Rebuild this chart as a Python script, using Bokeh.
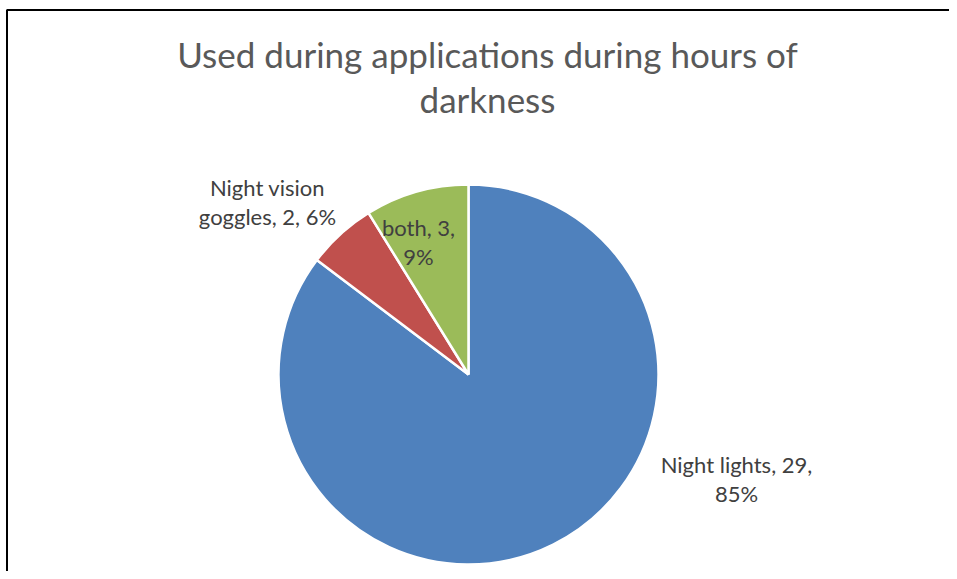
import math
from bokeh.plotting import figure
from bokeh.models import Range1d, ColumnDataSource
from bokeh.core.properties import value
from bokeh.embed import file_html
from bokeh.resources import INLINE

# ---- data ----
categories = ["Night lights", "Night vision goggles", "both"]
counts = [29, 2, 3]
colors = ["#4F81BD", "#C0504D", "#9BBB59"]
title_lines = ["Used during applications during hours of", "darkness"]

W, H = 949, 571
FONT = "Lato"

p = figure(width=W, height=H, output_backend="svg", toolbar_location=None,
           x_range=Range1d(0, W), y_range=Range1d(0, H),
           min_border=0, outline_line_color=None)
p.axis.visible = False
p.grid.visible = False

def Y(py):
    # convert a top-down pixel row into the data y
    return H - py

# pie geometry (layout)
cx, cy, r = 468, Y(374), 190
total = sum(counts)
starts, ends = [], []
cum = 0
for c in counts:
    starts.append(math.pi / 2 - 2 * math.pi * cum / total)
    cum += c
    ends.append(math.pi / 2 - 2 * math.pi * cum / total)

src = ColumnDataSource(dict(start=starts, end=ends, color=colors, cat=categories, n=counts))
p.wedge(x=cx, y=cy, radius=r, start_angle="start", end_angle="end", direction="clock",
        fill_color="color", line_color="white", line_width=2.5, source=src)

# labels
pcts = [round(100 * c / total) for c in counts]
lines = [
    [f"{categories[0]}, {counts[0]},", f"{pcts[0]}%"],
    ["Night vision", f"goggles, {counts[1]}, {pcts[1]}%"],
    [f"{categories[2]}, {counts[2]},", f"{pcts[2]}%"],
]
label_pos = [(736, 464), (267, 187), (418, 227)]  # first-line position
line_gap = 29
tx, ty, tt = [], [], []
for i in range(3):
    px, py = label_pos[i]
    for k, t in enumerate(lines[i]):
        tx.append(px)
        ty.append(Y(py + k * line_gap))
        tt.append(t)
p.text(x=tx, y=ty, text=tt, text_align="center", text_baseline="alphabetic",
       text_font=value(FONT), text_font_size="22px", text_color="#404040")

# title
p.text(x=[487, 487], y=[Y(53), Y(98)], text=title_lines,
       text_align="center", text_baseline="alphabetic",
       text_font=value(FONT), text_font_size="35px", text_color="#595959")

# border (top and left visible)
p.line(x=[6.5, 6.5, W], y=[0, Y(9.5), Y(9.5)], line_color="black", line_width=2)

open("out.html", "w").write(file_html(p, INLINE))
